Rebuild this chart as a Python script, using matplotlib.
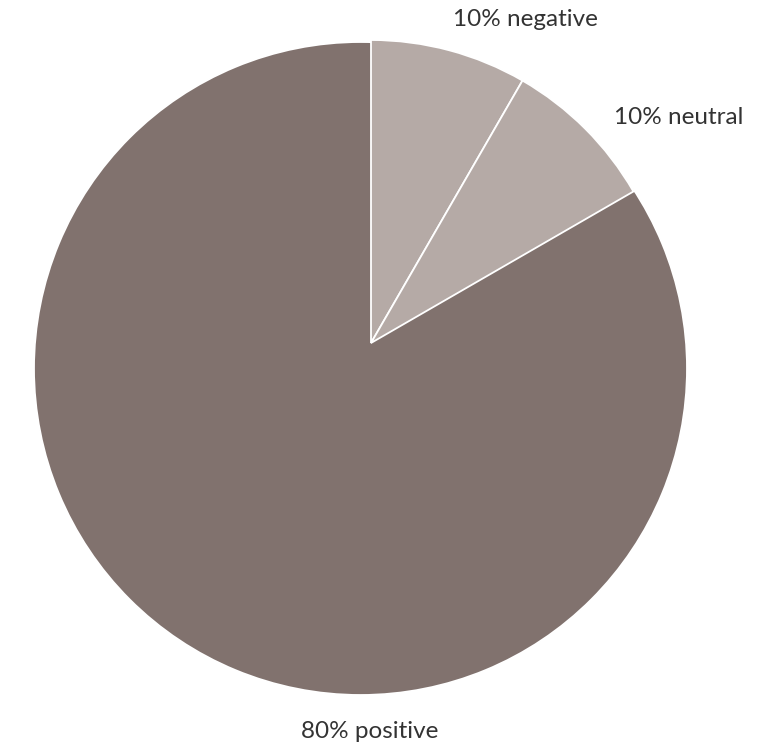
import matplotlib
matplotlib.use('Agg')
import matplotlib.pyplot as plt

categories = ['negative', 'neutral', 'positive']
values = [1, 1, 10]
label_pcts = [10, 10, 80]
colors = ['#B5AAA6', '#B5AAA6', '#81726E']

W, H = 764, 749
fig = plt.figure(figsize=(W / 100, H / 100), dpi=100)
ax = fig.add_axes([0, 0, 1, 1])

cx, cy, R = 360.5, H - 368.5, 326.5
apex = (371.0, H - 343.0)
r_small = 303.0

wedges, _ = ax.pie(values, colors=colors, startangle=90, counterclock=False,
                   radius=R, center=(cx, cy), frame=True,
                   wedgeprops=dict(edgecolor='white', linewidth=1.3))

# big slice fills the full disc underneath; small slices sit on top from the apex
big = wedges[2]
big.set_theta1(-270)
big.set_theta2(90)
big.set_zorder(1)
for w in wedges[:2]:
    w.set_center(apex)
    w.set_radius(r_small)
    w.set_zorder(2)
    w.set_clip_path(big)

ax.set_xlim(0, W)
ax.set_ylim(0, H)
ax.set_aspect('equal')
ax.axis('off')

font = dict(family=['Lato', 'DejaVu Sans'], fontsize=17.5, color='#333333')
ax.text(525, H - 19, f"{label_pcts[0]}% {categories[0]}", ha='center', va='center', **font)
ax.text(679, H - 117, f"{label_pcts[1]}% {categories[1]}", ha='center', va='center', **font)
ax.text(370, H - 732, f"{label_pcts[2]}% {categories[2]}", ha='center', va='center', **font)

fig.savefig('out.png', dpi=100)
